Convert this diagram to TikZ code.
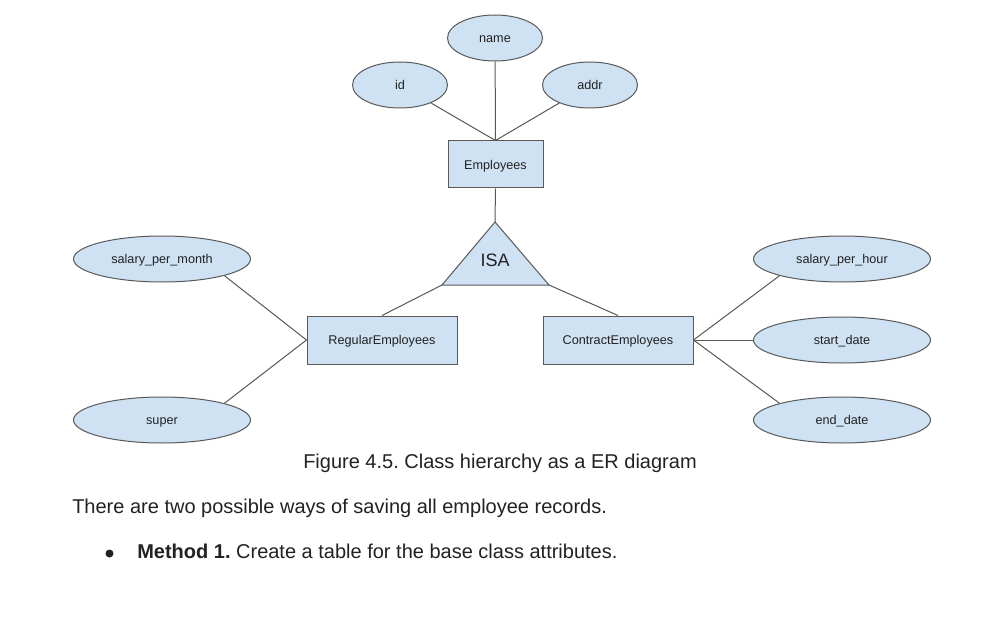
\documentclass[tikz,border=0pt]{standalone}
\usepackage{fontspec}
\setmainfont{Liberation Sans}
\usetikzlibrary{shapes.geometric}
\frenchspacing
\definecolor{fillblue}{HTML}{CFE2F3}
\definecolor{linegray}{HTML}{595959}
\definecolor{txt}{HTML}{222222}
\tikzset{
  attr/.style={ellipse, draw=linegray, fill=fillblue, line width=0.75pt, inner sep=0pt,
    minimum width=71.25pt, minimum height=34.5pt, font=\fontsize{9.5}{11}\selectfont, text=txt,
    text height=6.8pt, text depth=0pt},
  wattr/.style={attr, minimum width=132.75pt},
  ent/.style={rectangle, draw=linegray, fill=fillblue, line width=0.75pt, inner sep=0pt,
    font=\fontsize{9.5}{11}\selectfont, text=txt, text height=6.8pt, text depth=0pt},
  conn/.style={draw=linegray, line width=0.75pt},
  body/.style={font=\fontsize{15}{18}\selectfont, text=txt, inner sep=0pt}
}
\begin{document}
\begin{tikzpicture}[x=0.75pt,y=-0.75pt]
\useasboundingbox[fill=white] (0,0) rectangle (1003,638);
% attributes of Employees
\node[attr] (name) at (495,38) {name};
\node[attr] (id) at (400,85) {id};
\node[attr] (addr) at (590,85) {addr};
\node[ent, minimum width=71.25pt, minimum height=35.25pt] (emp) at (495.5,164.5) {Employees};
% ISA triangle
\coordinate (isaT) at (495,222);
\coordinate (isaL) at (442,285);
\coordinate (isaR) at (549,285);
\filldraw[fill=fillblue, draw=linegray, line width=0.75pt, line join=miter] (isaT) -- (isaR) -- (isaL) -- cycle;
\node[font=\fontsize{13.5}{15}\selectfont, text=txt] (isa) at (495,260) {ISA};
% subclasses
\node[ent, minimum width=112.5pt, minimum height=36pt] (reg) at (382,340) {RegularEmployees};
\node[ent, minimum width=112.5pt, minimum height=36pt] (con) at (618,340) {ContractEmployees};
% subclass attributes
\node[wattr] (spm) at (162,259) {salary\_per\_month};
\node[wattr] (sup) at (162,420) {super};
\node[wattr] (sph) at (842,259) {salary\_per\_hour};
\node[wattr] (sd) at (842,340) {start\_date};
\node[wattr] (ed) at (842,420) {end\_date};
% connectors
\draw[conn] (name) -- (emp.north);
\draw[conn] (id) -- (emp.north);
\draw[conn] (addr) -- (emp.north);
\draw[conn] (emp.south) -- (isaT);
\draw[conn] (isaL) -- (reg.north);
\draw[conn] (isaR) -- (con.north);
\draw[conn] (spm.-15) -- (reg.west);
\draw[conn] (sup.15) -- (reg.west);
\draw[conn] (sph.195) -- (con.east);
\draw[conn] (sd.west) -- (con.east);
\draw[conn] (ed.165) -- (con.east);
% text
\node[body, anchor=base] (cap) at (500,468) {Figure 4.5. Class hierarchy as a ER diagram};
\node[body, anchor=base west] (p1) at (72,513.5) {There are two possible ways of saving all employee records.};
\node[circle, fill=txt, inner sep=0pt, minimum size=6pt] (bul) at (109.5,553.5) {};
\node[body, anchor=base west] (p2) at (137,558.5) {\textbf{Method 1.} Create a table for the base class attributes.};
\end{tikzpicture}
\end{document}
